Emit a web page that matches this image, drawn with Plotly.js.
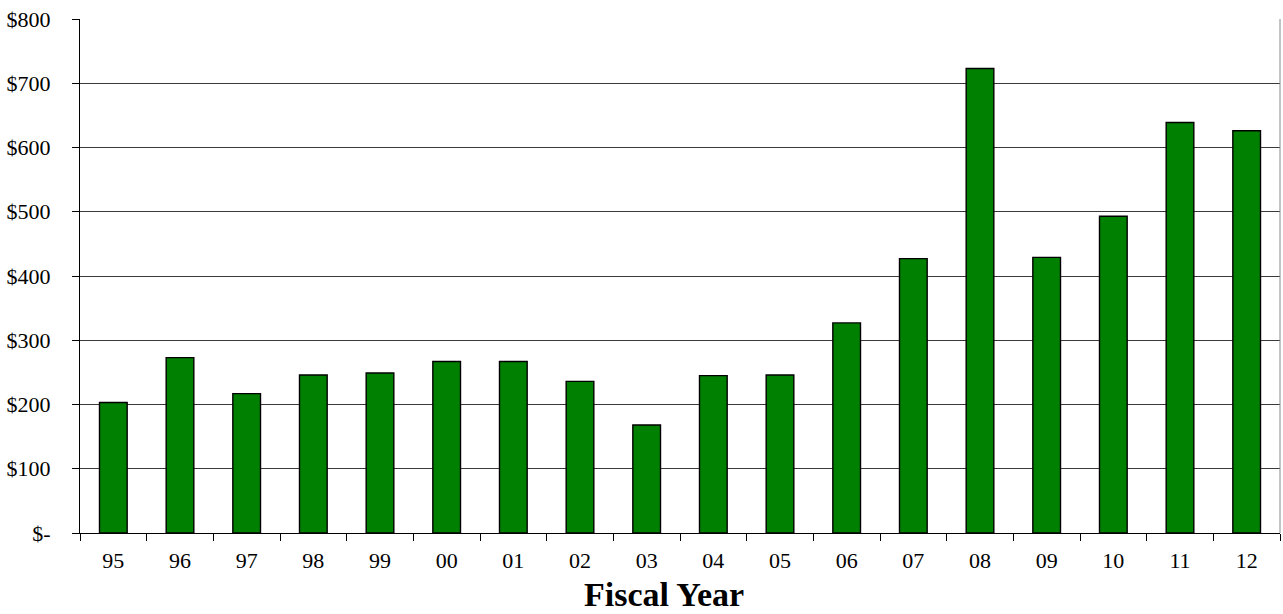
<!DOCTYPE html>
<html>
<head>
<meta charset="utf-8">
<script src="https://cdn.plot.ly/plotly-3.0.1.min.js"></script>
<style>
  html, body { margin: 0; padding: 0; background: #fff; }
  #chart { width: 1283px; height: 614px; }
</style>
</head>
<body>
<div id="chart"></div>
<script>
// Fiscal years (two-digit labels) and yearly amounts in dollars
const fiscalYears = ['95','96','97','98','99','00','01','02','03','04','05','06','07','08','09','10','11','12'];
const amounts = [203, 273, 217, 246, 249, 267, 267, 236, 168, 245, 246, 327, 427, 723, 429, 493, 639, 626];

// Value-axis ticks and their labels
const yTickVals = [0, 100, 200, 300, 400, 500, 600, 700, 800];
const yTickText = ['$-', '$100', '$200', '$300', '$400', '$500', '$600', '$700', '$800'];

const xAxisTitle = 'Fiscal Year';

const serif = 'Liberation Serif, Times New Roman, serif';

const trace = {
  type: 'bar',
  x: fiscalYears,
  y: amounts,
  marker: { color: '#008000', line: { color: '#000000', width: 1.4 } },
  hoverinfo: 'x+y'
};

const layout = {
  width: 1283,
  height: 614,
  margin: { l: 80, r: 3, t: 19, b: 81, pad: 0 },
  paper_bgcolor: '#ffffff',
  plot_bgcolor: '#ffffff',
  showlegend: false,
  bargap: 0.585,
  font: { family: serif, color: '#000000', size: 22 },
  xaxis: {
    type: 'category',
    tickson: 'boundaries',
    ticks: 'outside',
    ticklen: 7,
    tickwidth: 1,
    tickcolor: '#000000',
    ticklabelstandoff: 8,
    showline: true,
    linecolor: '#000000',
    linewidth: 1,
    showgrid: false,
    tickfont: { family: serif, size: 22, color: '#000000' }
  },
  yaxis: {
    range: [0, 800],
    tickmode: 'array',
    tickvals: yTickVals,
    ticktext: yTickText,
    ticks: 'outside',
    ticklen: 7,
    tickwidth: 1,
    tickcolor: '#000000',
    ticklabelstandoff: 17,
    showline: true,
    linecolor: '#000000',
    linewidth: 1,
    showgrid: true,
    gridcolor: '#3a3a3a',
    gridwidth: 1,
    zeroline: false,
    tickfont: { family: serif, size: 22, color: '#000000' }
  },
  annotations: [
    // axis title, sitting at the bottom edge of the figure
    { text: '<b>' + xAxisTitle + '</b>', xref: 'paper', yref: 'paper',
      x: 0.4865, y: -0.1576, xanchor: 'center', yanchor: 'bottom', showarrow: false,
      borderpad: 0,
      font: { family: serif, size: 34, color: '#000000' } }
  ],
  shapes: [
    { type: 'line', xref: 'paper', yref: 'paper', x0: 1, x1: 1, y0: 0, y1: 1,
      line: { color: '#888888', width: 1 } }
  ]
};

Plotly.newPlot('chart', [trace], layout, { displayModeBar: false, staticPlot: true });
</script>
</body>
</html>
